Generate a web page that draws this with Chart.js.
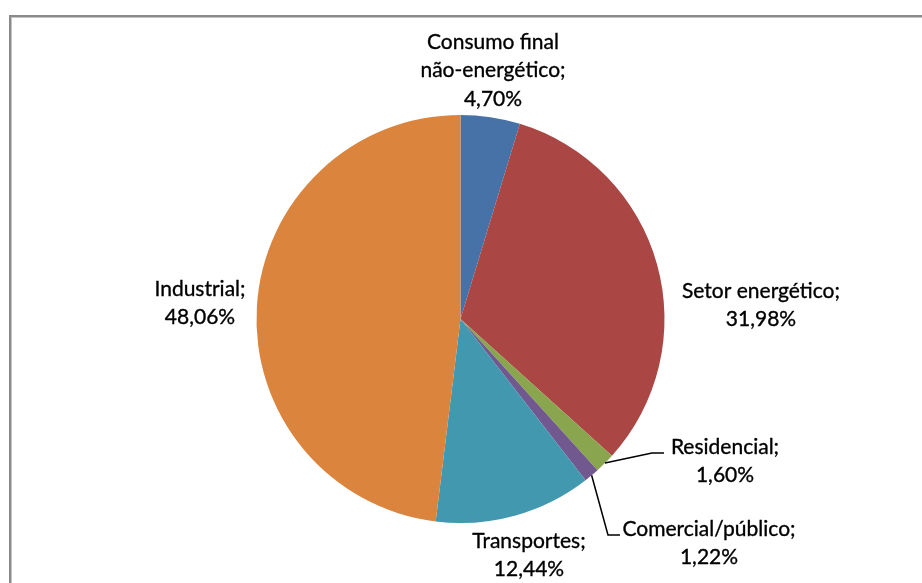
<!DOCTYPE html>
<html>
<head>
<meta charset="utf-8">
<script src="https://cdn.jsdelivr.net/npm/chart.js@4.4.1/dist/chart.umd.min.js"></script>
<style>
  html, body { margin: 0; padding: 0; background: #ffffff; }
  #wrap { position: relative; width: 922px; height: 583px; }
  canvas { display: block; }
</style>
</head>
<body>
<div id="wrap"><canvas id="c" width="922" height="583"></canvas></div>
<script>
// Final energy consumption by sector (% share)
const categories = [
  ["Consumo final", "não-energético"],
  ["Setor energético"],
  ["Residencial"],
  ["Comercial/público"],
  ["Transportes"],
  ["Industrial"]
];
const shares = [4.70, 31.98, 1.60, 1.22, 12.44, 48.06];
const colors = ["#4672A8", "#AA4643", "#89A54E", "#71588F", "#4198AF", "#DB843D"];

// Text placement of each data label (centre x, first-line y) and optional leader elbows
const labelLayout = [
  { x: 493, y: 42 },
  { x: 761, y: 291 },
  { x: 725, y: 447, leader: [[652, 453], [664, 453]] },
  { x: 709, y: 529, leader: [[608, 535], [620, 535]] },
  { x: 529, y: 541 },
  { x: 200, y: 289 }
];

const fmt = v => v.toFixed(2).replace(".", ",") + "%";
const FONT = "21px Lato, 'Liberation Sans', sans-serif";
const LINE_H = 28.5;

const framePlugin = {
  id: "frame",
  beforeDraw(chart) {
    const ctx = chart.ctx;
    ctx.save();
    ctx.fillStyle = "#ffffff";
    ctx.fillRect(0, 0, chart.width, chart.height);
    ctx.fillStyle = "#8a8a8a";
    ctx.fillRect(9, 15, chart.width - 9, 2);
    ctx.fillRect(9, 15, 2, chart.height - 15);
    ctx.fillStyle = "#c4c4c4";
    ctx.fillRect(11, 17, chart.width - 11, 1);
    ctx.fillRect(11, 17, 1, chart.height - 17);
    ctx.restore();
  }
};

const labelPlugin = {
  id: "sliceLabels",
  afterDatasetsDraw(chart) {
    const ctx = chart.ctx;
    const meta = chart.getDatasetMeta(0);
    ctx.save();
    ctx.font = FONT;
    ctx.fillStyle = "#000000";
    ctx.strokeStyle = "#000000";
    ctx.textAlign = "center";
    ctx.textBaseline = "middle";
    meta.data.forEach((arc, i) => {
      const lay = labelLayout[i];
      const lines = categories[i].slice();
      lines[lines.length - 1] += ";";
      lines.push(fmt(shares[i]));
      ctx.lineWidth = 0.35;
      lines.forEach((t, k) => {
        ctx.fillText(t, lay.x, lay.y + k * LINE_H);
        ctx.strokeText(t, lay.x, lay.y + k * LINE_H);
      });
      if (lay.leader) {
        const mid = (arc.startAngle + arc.endAngle) / 2;
        const sx = arc.x + arc.outerRadius * Math.cos(mid);
        const sy = arc.y + arc.outerRadius * Math.sin(mid);
        ctx.beginPath();
        ctx.lineWidth = 1.5;
        ctx.moveTo(sx, sy);
        lay.leader.forEach(p => ctx.lineTo(p[0], p[1]));
        ctx.stroke();
      }
    });
    ctx.restore();
  }
};

new Chart(document.getElementById("c"), {
  type: "pie",
  data: {
    labels: categories.map(c => c.join(" ")),
    datasets: [{
      data: shares,
      backgroundColor: colors,
      borderWidth: 0
    }]
  },
  options: {
    responsive: false,
    animation: false,
    layout: { padding: { top: 115, bottom: 60, left: 256, right: 257 } },
    plugins: {
      legend: { display: false },
      tooltip: { enabled: false }
    }
  },
  plugins: [framePlugin, labelPlugin]
});
</script>
</body>
</html>
